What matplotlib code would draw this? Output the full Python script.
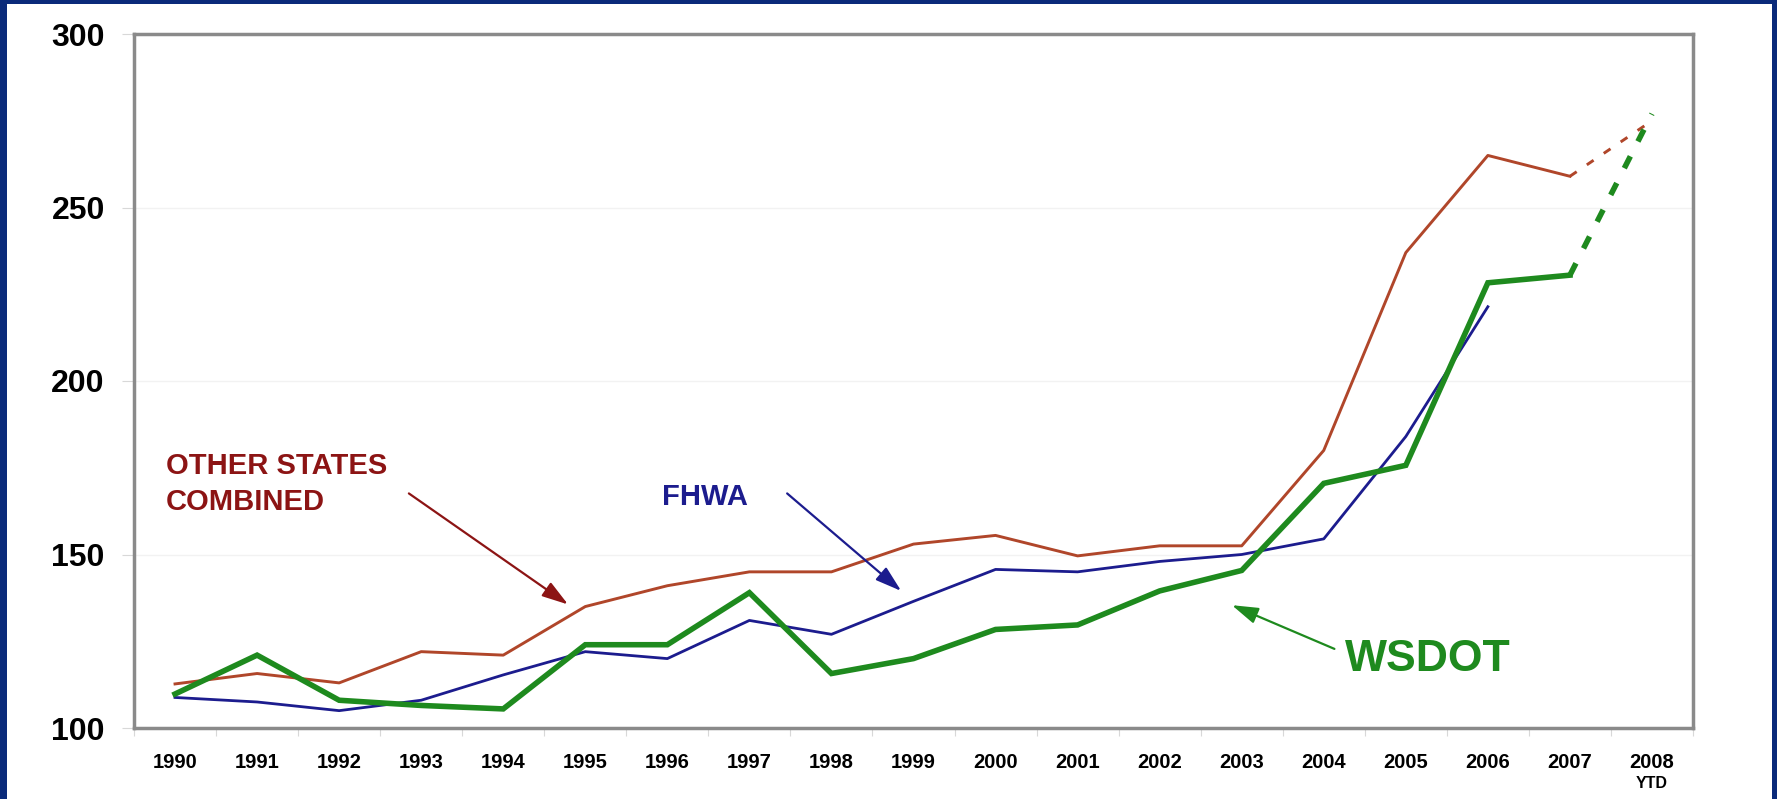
import matplotlib
matplotlib.use("Agg")
import matplotlib.pyplot as plt
import numpy as np
from matplotlib.patches import Rectangle

years = ["1990", "1991", "1992", "1993", "1994", "1995", "1996", "1997", "1998",
         "1999", "2000", "2001", "2002", "2003", "2004", "2005", "2006", "2007", "2008"]
other_states = [112.7, 115.7, 113, 122, 121, 135, 141, 145, 145, 153, 155.5, 149.6,
                152.5, 152.5, 180, 237, 265, 259]
other_states_ytd = [259, 275]
fhwa = [108.8, 107.5, 105, 108, 115.3, 122, 120, 131, 127, 136.5, 145.7, 145,
        148, 150, 154.5, 184, 221.4]
wsdot = [109.8, 121, 108, 106.5, 105.5, 124, 124, 139, 115.7, 120, 128.4, 129.7,
         139.5, 145.4, 170.5, 175.7, 228.3, 230.5]
wsdot_ytd = [230.5, 277]
yticks = [100, 150, 200, 250, 300]

RED = "#B0462A"
DKRED = "#8C1414"
BLUE = "#1C1C8E"
GREEN = "#1E8A1E"

plt.rcParams['font.family'] = ['Liberation Sans', 'DejaVu Sans']

fig = plt.figure(figsize=(17.77, 7.99), dpi=100)
fig.patch.set_facecolor("#0A2A7A")
# white panel
bg = fig.add_axes([0, 0, 1, 1], zorder=-10)
bg.set_axis_off()
bg.set_xlim(0, 1777)
bg.set_ylim(799, 0)
bg.add_patch(Rectangle((7, 4), 1772 - 7, 800, facecolor="white", edgecolor="none"))

ax = fig.add_axes([134/1777, 1 - 728/799, (1693-134)/1777, (728-34)/799], zorder=1)
ax.set_facecolor("white")
ax.set_xlim(-0.5, len(years) - 0.5)
ax.set_ylim(100, 300)

x = np.arange(len(years))
ax.plot(x[:len(other_states)], other_states, color=RED, lw=2.1, zorder=3)
ax.plot(x[len(other_states)-1:len(other_states)+1], other_states_ytd, color=RED,
        lw=2.1, ls=(0, (2.8, 4.2)), zorder=3)
ax.plot(x[:len(fhwa)], fhwa, color=BLUE, lw=2.0, zorder=4)
ax.plot(x[:len(wsdot)], wsdot, color=GREEN, lw=4.0, zorder=5, solid_joinstyle='miter')
ax.plot(x[len(wsdot)-1:len(wsdot)+1], wsdot_ytd, color=GREEN, lw=4.0,
        ls=(0, (2.4, 3.0)), zorder=5)

# grid / ticks
ax.set_yticks(yticks)
ax.set_yticklabels([str(v) for v in yticks], fontsize=23, fontweight='bold')
for v in yticks[1:-1]:
    ax.axhline(v, color="#f2f2f2", lw=1, zorder=1)
ax.tick_params(axis='y', length=9, color="#d8d8d8", pad=12)
ax.set_xticks(np.arange(-0.5, len(years) + 0.5, 1), minor=False)
ax.set_xticklabels([])
ax.set_xticks(x, minor=True)
ax.set_xticklabels(years, minor=True, fontsize=14.5, fontweight='bold')
ax.tick_params(axis='x', which='major', length=6, color="#d8d8d8")
ax.tick_params(axis='x', which='minor', length=0, pad=18)
ax.text(len(years) - 1, -0.069, "YTD", transform=ax.get_xaxis_transform(),
        ha='center', va='top', fontsize=11.5, fontweight='bold')

for s in ax.spines.values():
    s.set_color("#8a8a8a")
    s.set_linewidth(2.5)

arrow_kw = dict(arrowstyle="-|>,head_length=0.8,head_width=0.25", lw=1.6,
                mutation_scale=20, shrinkA=0, shrinkB=0)

# annotations
ax.text(-0.11, 170.4, "OTHER STATES\nCOMBINED", color=DKRED, fontsize=21,
        fontweight='bold', va='center', ha='left', linespacing=1.38)
ax.annotate("", xy=(4.79, 135.6), xytext=(2.85, 167.6),
            arrowprops=dict(color=DKRED, **arrow_kw))
ax.text(5.93, 166.7, "FHWA", color=BLUE, fontsize=21, fontweight='bold',
        va='center', ha='left')
ax.annotate("", xy=(8.85, 139.5), xytext=(7.46, 167.6),
            arrowprops=dict(color=BLUE, **arrow_kw))
ax.text(14.26, 119.7, "WSDOT", color=GREEN, fontsize=32, fontweight='bold',
        va='center', ha='left')
ax.annotate("", xy=(12.88, 135.4), xytext=(14.13, 122.8),
            arrowprops=dict(color=GREEN, **arrow_kw))

fig.savefig("out.png", dpi=100, facecolor=fig.get_facecolor())
